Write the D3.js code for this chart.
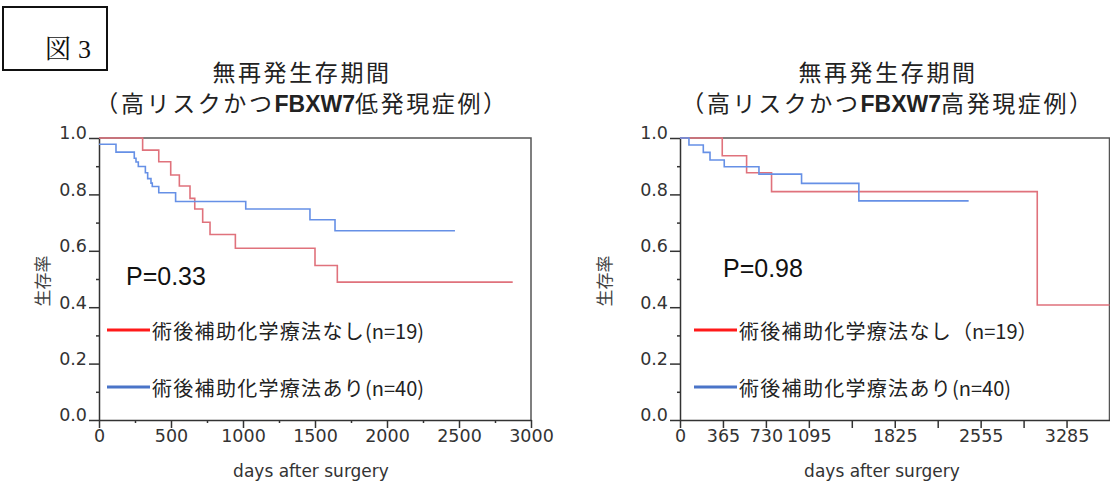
<!DOCTYPE html>
<html>

<head>
  <meta charset="utf-8">
  <title>無再発生存期間</title>
  <script src="https://cdn.jsdelivr.net/npm/d3@7"></script>
  <style>
    body { margin: 0; background: #fff; }
    text { fill: #333; }
    .tick text { font-family: "DejaVu Sans", sans-serif; font-size: 17.5px; fill: #333; }
    .domain, .tick line { stroke: #333; stroke-width: 1.5; }
  </style>
</head>

<body>
  <svg width="1110" height="486" id="mainsvg"></svg>
  <script>
    // step points [day, survival]
    const lowNoChemo = [[0, 1], [303, 0.957], [415, 0.916], [498, 0.869], [558, 0.830], [632, 0.786], [665, 0.748],
      [720, 0.701], [771, 0.658], [947, 0.609], [1500, 0.548], [1655, 0.489], [2873, 0.489]];
    const lowChemo = [[0, 0.978], [118, 0.95], [245, 0.928], [257, 0.915], [273, 0.899], [322, 0.877], [338, 0.856],
      [361, 0.840], [370, 0.828], [415, 0.806], [532, 0.775], [1019, 0.748], [1465, 0.710], [1639, 0.671], [2472, 0.671]];
    const highNoChemo = [[0, 1], [359, 0.937], [566, 0.877], [778, 0.810], [3036, 0.408], [3650, 0.408]];
    const highChemo = [[0, 1], [76, 0.975], [198, 0.949], [255, 0.922], [376, 0.898], [671, 0.872], [1033, 0.839],
      [1520, 0.777], [2453, 0.777]];

    const yTicks = [0, 0.2, 0.4, 0.6, 0.8, 1.0];
    const yMinor = [0.1, 0.3, 0.5, 0.7, 0.9];
    const leftXTicks = [0, 500, 1000, 1500, 2000, 2500, 3000];
    const leftXMinor = [250, 750, 1250, 1750, 2250, 2750];
    const rightXTicks = [0, 365, 730, 1095, 1460, 1825, 2190, 2555, 2920, 3285];
    const rightXLabels = [0, 365, 730, 1095, 1825, 2555, 3285];

    const titleLine1 = '無再発生存期間';
    const subtitleLeft = ['（高リスクかつ', 'FBXW7', '低発現症例）'];
    const subtitleRight = ['（高リスクかつ', 'FBXW7', '高発現症例）'];
    const legendLeft = [['術後補助化学療法なし', '(n=19)'], ['術後補助化学療法あり', '(n=40)']];
    const legendRight = [['術後補助化学療法なし', '（n=19）'], ['術後補助化学療法あり', '(n=40)']];
    const pLeft = 'P=0.33';
    const pRight = 'P=0.98';

    const svg = d3.select('svg');
    const cjk = '"Noto Sans CJK JP", sans-serif';
    const curveRed = '#e0727c';
    const curveBlue = '#6690e6';
    const legendRed = '#ff1a1a';
    const legendBlue = '#4a74c8';

    const y = d3.scaleLinear().domain([0, 1]).range([420, 138]);

    // figure label box
    svg.append('rect').attr('x', 3).attr('y', 7).attr('width', 104).attr('height', 63)
      .attr('fill', 'none').attr('stroke', '#111').attr('stroke-width', 2);
    const fig = svg.append('text').attr('x', 68).attr('y', 58).attr('text-anchor', 'middle')
      .style('font-size', '26px').style('fill', '#111');
    fig.append('tspan').style('font-family', '"Noto Serif CJK JP", "Noto Sans CJK JP", serif').text('図');
    fig.append('tspan').style('font-family', '"Liberation Serif", serif').attr('dx', 7).text('3');

    const drawPanel = function (cfg) {
      const x = d3.scaleLinear().domain(cfg.domain).range(cfg.range);
      const g = svg.append('g');

      // frame top and right
      g.append('path')
        .attr('d', `M${x.range()[0]},${y(1)}H${x.range()[1]}V${y(0)}`)
        .attr('fill', 'none').attr('stroke', '#555').attr('stroke-width', 1.5);

      // minor y ticks
      g.append('g').attr('transform', `translate(${x.range()[0]},0)`)
        .call(d3.axisLeft(y).tickValues(yMinor).tickSize(3).tickFormat(''))
        .call(a => a.select('.domain').remove());
      // major y ticks
      const ya = g.append('g').attr('transform', `translate(${x.range()[0]},0)`)
        .call(d3.axisLeft(y).tickValues(yTicks).tickSize(10).tickSizeOuter(0).tickPadding(2).tickFormat(d3.format('.1f')));
      ya.selectAll('.tick text').attr('dy', '0.05em');

      // x axis
      if (cfg.minor) {
        g.append('g').attr('transform', `translate(0,${y(0)})`)
          .call(d3.axisBottom(x).tickValues(cfg.minor).tickSize(3).tickFormat(''))
          .call(a => a.select('.domain').remove());
      }
      g.append('g').attr('transform', `translate(0,${y(0)})`)
        .call(d3.axisBottom(x).tickValues(cfg.ticks).tickSize(8).tickSizeOuter(0).tickPadding(2)
          .tickFormat(d => cfg.labels.includes(d) ? d : ''));

      // survival curves
      const line = d3.line().x(d => x(d[0])).y(d => y(d[1])).curve(d3.curveStepAfter);
      cfg.curves.forEach(c => {
        g.append('path').datum(c.data)
          .attr('d', line)
          .attr('fill', 'none')
          .attr('stroke', c.color)
          .attr('stroke-width', 1.6);
      });

      // titles
      g.append('text').attr('x', cfg.titleX).attr('y', 81).attr('text-anchor', 'middle')
        .style('font-family', cjk).style('font-size', '23px').style('letter-spacing', '2.6px').style('fill', '#222')
        .text(titleLine1);
      const sub = g.append('text').attr('x', cfg.titleX).attr('y', 112).attr('text-anchor', 'middle')
        .style('font-size', '23px').style('fill', '#222');
      cfg.subtitle.forEach((s, i) => {
        sub.append('tspan')
          .style('font-family', i === 1 ? '"Liberation Sans", Arial, sans-serif' : cjk)
          .style('font-weight', i === 1 ? 'bold' : 'normal')
          .style('letter-spacing', i === 1 ? '0px' : '2.6px')
          .text(s);
      });

      // axis labels
      g.append('text')
        .attr('transform', `translate(${cfg.yLabelX},281) rotate(-90)`)
        .attr('text-anchor', 'middle').attr('dominant-baseline', 'central')
        .style('font-family', cjk).style('font-size', '17px').style('fill', '#444')
        .text('生存率');
      g.append('text').attr('x', cfg.xLabelX).attr('y', 477).attr('text-anchor', 'middle')
        .style('font-family', '"DejaVu Sans", sans-serif').style('font-size', '17px').style('fill', '#333')
        .text('days after surgery');

      // p value
      g.append('text').attr('x', cfg.pX).attr('y', cfg.pY)
        .style('font-family', '"Liberation Sans", Arial, sans-serif').style('font-size', '25px').style('fill', '#111')
        .text(cfg.p);

      // legend
      [legendRed, legendBlue].forEach((col, i) => {
        const ly = [330, 387][i];
        g.append('line')
          .attr('x1', cfg.legX).attr('x2', cfg.legX + 43).attr('y1', ly).attr('y2', ly)
          .attr('stroke', col).attr('stroke-width', 3.2);
        const t = g.append('text').attr('x', cfg.legX + 45).attr('y', ly).attr('dominant-baseline', 'central')
          .style('font-family', cjk).style('font-size', '20px').style('fill', '#222');
        t.append('tspan').style('letter-spacing', '1.3px').text(cfg.legend[i][0]);
        t.append('tspan').text(cfg.legend[i][1]);
      });
    };

    drawPanel({
      domain: [0, 3000], range: [99, 531],
      ticks: leftXTicks, labels: leftXTicks, minor: leftXMinor,
      curves: [{ data: lowNoChemo, color: curveRed }, { data: lowChemo, color: curveBlue }],
      titleX: 302, subtitle: subtitleLeft, yLabelX: 41, xLabelX: 311,
      p: pLeft, pX: 126, pY: 285, legX: 107, legend: legendLeft
    });

    drawPanel({
      domain: [0, 3650], range: [680, 1109.5],
      ticks: rightXTicks, labels: rightXLabels, minor: null,
      curves: [{ data: highNoChemo, color: curveRed }, { data: highChemo, color: curveBlue }],
      titleX: 888, subtitle: subtitleRight, yLabelX: 603, xLabelX: 882,
      p: pRight, pX: 723, pY: 277, legX: 694, legend: legendRight
    });
  </script>
</body>

</html>
